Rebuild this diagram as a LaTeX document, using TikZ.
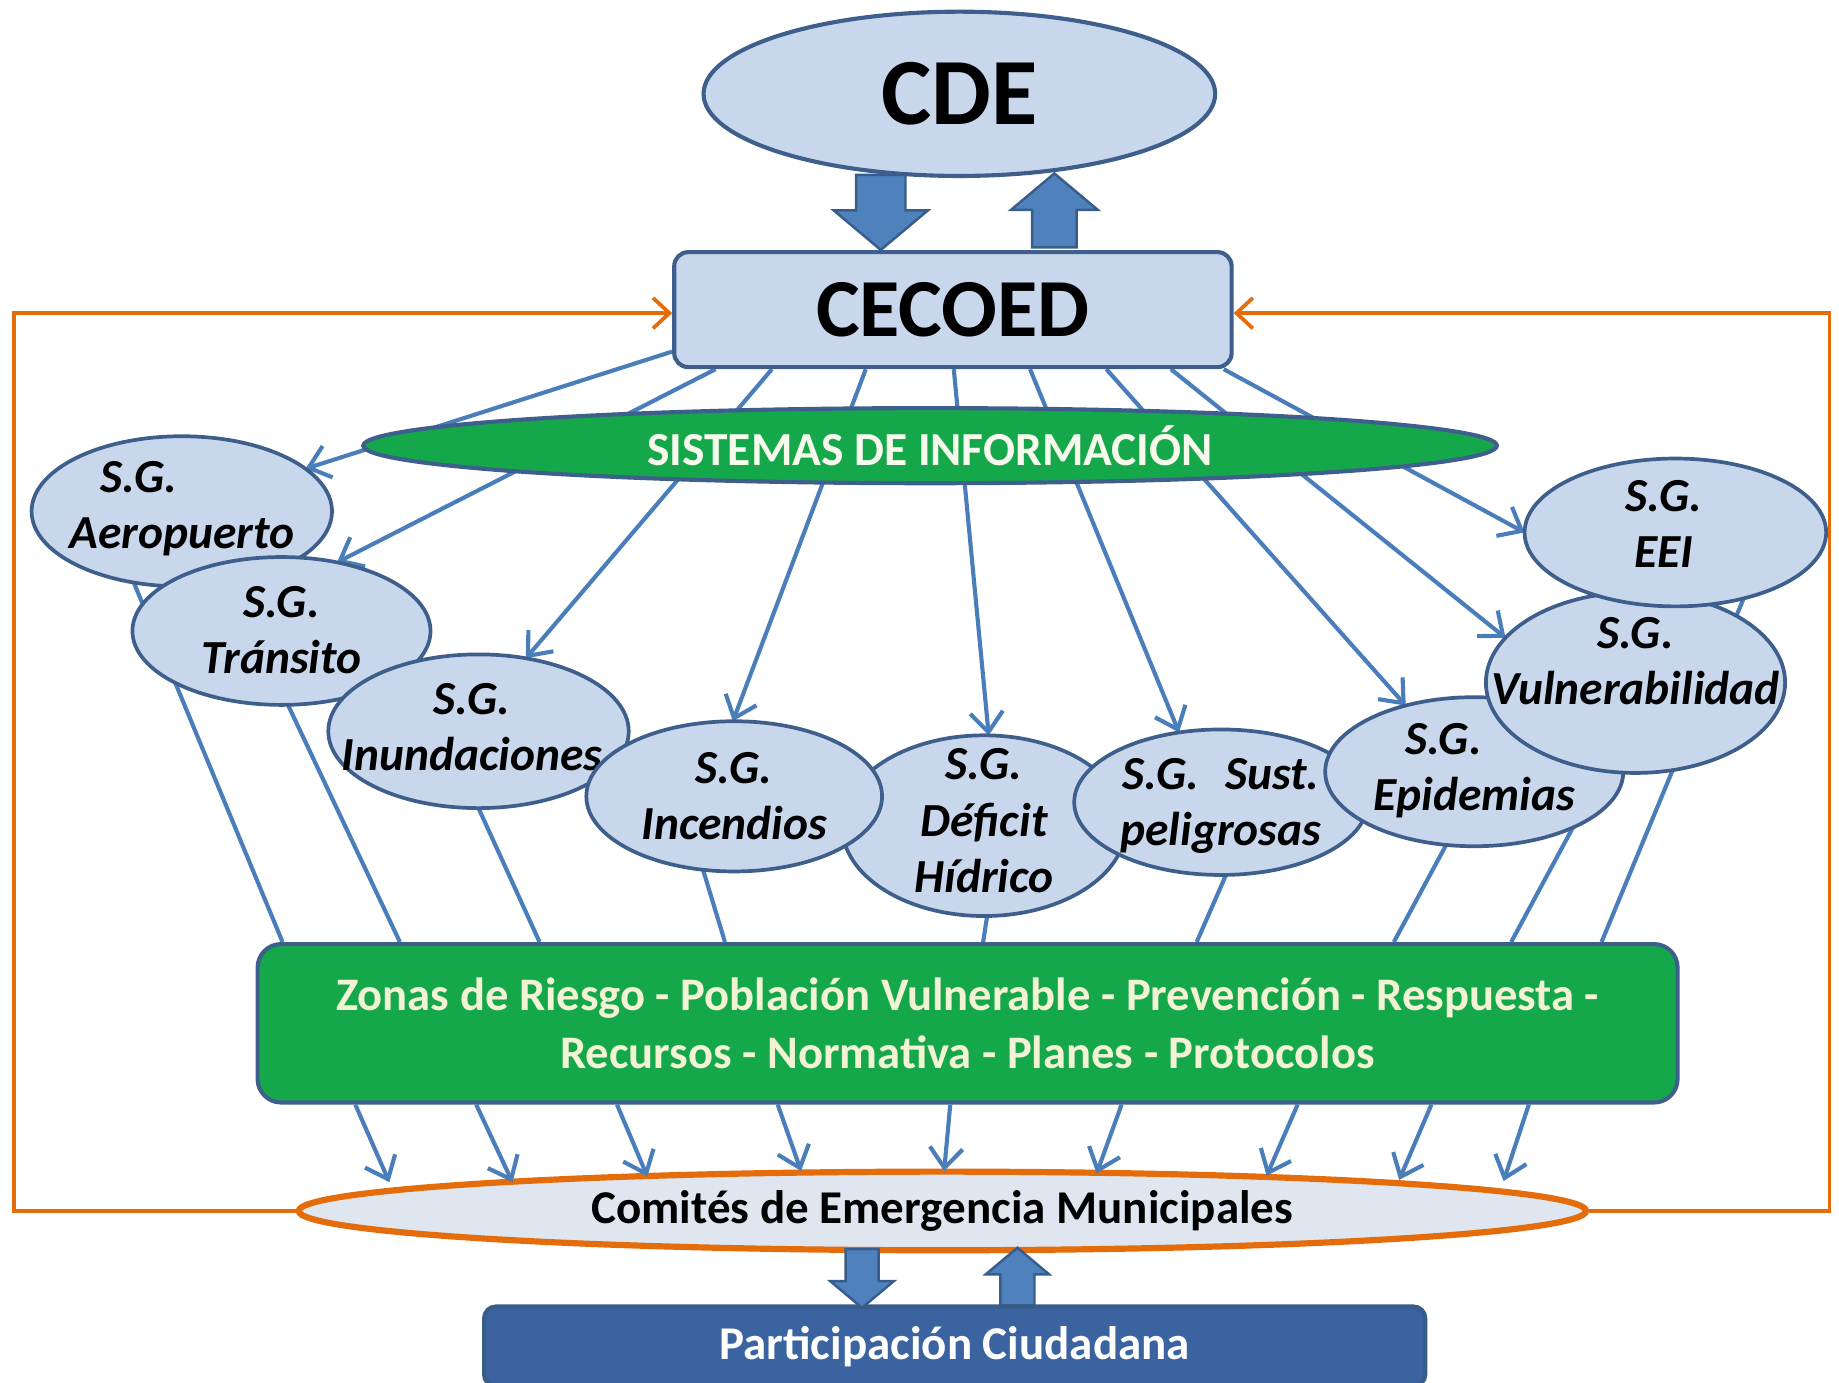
\documentclass[tikz,border=0pt]{standalone}
\usepackage{fontspec}
\setmainfont{Carlito}
\usetikzlibrary{shapes.geometric,shapes.arrows,arrows.meta,backgrounds}

\definecolor{lightb}{HTML}{C8D7EC}
\definecolor{bordc}{HTML}{3E5F8C}
\definecolor{lineb}{HTML}{4A7EBB}
\definecolor{arrowf}{HTML}{4F81BD}
\definecolor{arrowb}{HTML}{385D8A}
\definecolor{grn}{HTML}{14A84A}
\definecolor{cream}{HTML}{F2F2D5}
\definecolor{whitish}{HTML}{F6F9EC}
\definecolor{orng}{HTML}{E46C0A}
\definecolor{comfill}{HTML}{DFE6F0}
\definecolor{partfill}{HTML}{3A63A0}

% text of a S.G. ellipse, taking no room of its own: [raise]{shift}{lines}
\newcommand{\sgtext}[3][0pt]{\makebox[0pt][l]{\hspace*{#2}\makebox[0pt]{\smash{\raisebox{\dimexpr#1-3.9pt\relax}{\begin{tabular}{@{}c@{}}#3\end{tabular}}}}}}

\tikzset{
  sg/.style 2 args={ellipse, draw=bordc, fill=lightb, line width=0.9pt, inner sep=0pt, outer sep=0pt,
    minimum width=#1cm, minimum height=#2cm, font=\fontsize{11.5}{13.6}\selectfont\bfseries\itshape},
  link/.style={draw=lineb, line width=1pt},
  linkarrow/.style={link, -{Straight Barb[length=1.7mm,width=2.8mm]}},
  frame/.style={draw=orng, line width=0.9pt, -{Straight Barb[length=1.4mm,width=2.6mm]}},
  bigarrow/.style={single arrow, draw=arrowb, fill=arrowf, line width=0.6pt, inner xsep=0pt, single arrow tip angle=100},
}

\begin{document}
\begin{tikzpicture}[x=0.01cm, y=-0.01cm]
  \useasboundingbox (0,0) rectangle (1568,1179);

  \node[ellipse, draw=bordc, fill=lightb, line width=1pt, inner sep=0pt, minimum width=4.36cm, minimum height=1.40cm,
        font=\fontsize{23}{26}\selectfont\bfseries] (cde) at (818,80) {CDE};
  \node[draw=bordc, fill=lightb, line width=1pt, rounded corners=0.12cm, inner sep=0pt, minimum width=4.75cm, minimum height=0.98cm,
        font=\fontsize{20}{24}\selectfont\bfseries] (cecoed) at (812.5,264) {CECOED};
  \node[ellipse, draw=bordc, fill=grn, line width=1pt, inner sep=0pt, minimum width=9.66cm, minimum height=0.64cm,
        text=whitish, font=\fontsize{11.5}{13}\selectfont\bfseries] (sist) at (793,380) {SISTEMAS DE INFORMACIÓN};

  \node[sg={2.56}{1.28}] (aero) at (155,436) {\sgtext[1.4pt]{0pt}{S.G.\hspace*{1.8em}\\Aeropuerto}};
  \node[sg={2.54}{1.26}] (transito) at (240,538) {\sgtext{0pt}{S.G.\\Tránsito}};
  \node[sg={2.56}{1.31}] (inund) at (408,623.5) {\sgtext[0.85pt]{-1.6pt}{S.G.\\Inundaciones}};
  \node[sg={2.42}{1.54}] (deficit) at (839,704) {\sgtext[1.1pt]{0pt}{S.G.\\Déficit\\Hídrico}};
  \node[sg={2.52}{1.28}] (incend) at (626,679) {\sgtext{0pt}{S.G.\\Incendios}};
  \node[sg={2.50}{1.24}] (sust) at (1041,684) {\sgtext{0pt}{S.G.\hspace{0.55em}Sust.\\peligrosas}};
  \node[sg={2.54}{1.27}] (epid) at (1257,658) {\sgtext[1.1pt]{0pt}{S.G.\hspace*{1.3em}\\Epidemias}};
  \node[sg={2.55}{1.54}] (vuln) at (1394.5,582) {\sgtext[5.1pt]{0pt}{S.G.\\Vulnerabilidad}};
  \node[sg={2.57}{1.26}] (eei) at (1428.5,454) {\sgtext[2pt]{-2.8pt}{S.G.\\EEI}};

  \node[draw=bordc, fill=grn, line width=1pt, rounded corners=0.2cm, inner sep=0pt, minimum width=12.10cm, minimum height=1.35cm,
        align=center, text=cream, font=\fontsize{11.3}{13.9}\selectfont\bfseries] (box) at (825,872.5)
        {Zonas de Riesgo - Población Vulnerable - Prevención - Respuesta -\\Recursos - Normativa - Planes - Protocolos};
  \node[ellipse, draw=orng, fill=comfill, line width=1.5pt, inner sep=0pt, minimum width=10.97cm, minimum height=0.67cm,
        font=\fontsize{11.4}{13}\selectfont\bfseries] (com) at (803.5,1032.5) {Comités de Emergencia Municipales};
  \node[draw=arrowb, fill=partfill, line width=1pt, rounded corners=0.1cm, inner sep=0pt, minimum width=8.02cm, minimum height=0.68cm,
        text=white, font=\fontsize{11.4}{13}\selectfont\bfseries] (part) at (814,1148) {Participación Ciudadana};

  \node[bigarrow, rotate=-90, anchor=tail, minimum height=0.64cm, inner ysep=0.2cm, single arrow head extend=0.19cm] (cdedown) at (751,148) {};
  \node[bigarrow, rotate=90, anchor=tail, minimum height=0.63cm, inner ysep=0.18cm, single arrow head extend=0.18cm] (cdeup) at (899,212) {};
  \node[bigarrow, rotate=-90, anchor=tail, minimum height=0.50cm, inner ysep=0.13cm, single arrow head extend=0.13cm] (comdown) at (735,1064) {};
  \node[bigarrow, rotate=90, anchor=tail, minimum height=0.49cm, inner ysep=0.135cm, single arrow head extend=0.125cm] (comup) at (867.5,1114) {};

  \coordinate (fnw) at (12,267);
  \coordinate (fne) at (1560,267);

  \begin{scope}[on background layer]
    \draw[frame] (com.west) -| (fnw) -- (fnw -| cecoed.west);
    \draw[frame] (com.east) -| (fne) -- (fne -| cecoed.east);

    \draw[linkarrow] ([yshift=0.15cm]cecoed.south west) -- (aero.19);
    \draw[linkarrow] ([xshift=0.37cm]cecoed.south west) -- (transito.51);
    \draw[linkarrow] ([xshift=0.85cm]cecoed.south west) -- (inund.57);
    \draw[linkarrow] ([xshift=1.65cm]cecoed.south west) -- (incend.91);
    \draw[linkarrow] ([xshift=2.40cm]cecoed.south west) -- (deficit.87);
    \draw[linkarrow] ([xshift=3.05cm]cecoed.south west) -- (sust.121);
    \draw[linkarrow] ([xshift=3.70cm]cecoed.south west) -- (epid.136);
    \draw[linkarrow] ([xshift=4.25cm]cecoed.south west) -- (vuln.161);
    \draw[linkarrow] ([xshift=4.70cm]cecoed.south west) -- (eei.180);

    \draw[link] (aero.236) -- ([xshift=0.23cm]box.north west);
    \draw[link] (transito.275) -- ([xshift=1.23cm]box.north west);
    \draw[link] (inund.270) -- ([xshift=2.42cm]box.north west);
    \draw[link] (incend.247) -- ([xshift=4.00cm]box.north west);
    \draw[link] (deficit.272) -- ([xshift=6.20cm]box.north west);
    \draw[link] (sust.274) -- ([xshift=8.02cm]box.north west);
    \draw[link] (epid.249) -- ([xshift=9.70cm]box.north west);
    \draw[link] (vuln.250) -- ([xshift=10.70cm]box.north west);
    \draw[link] (eei.316) -- ([xshift=11.47cm]box.north west);
  \end{scope}

  \draw[linkarrow] ([xshift=0.85cm]box.south west) -- ([shift={(-471.5,-24.5)}]com.center);
  \draw[linkarrow] ([xshift=1.88cm]box.south west) -- ([shift={(-366.5,-24.5)}]com.center);
  \draw[linkarrow] ([xshift=3.08cm]box.south west) -- ([shift={(-251.5,-29.3)}]com.center);
  \draw[linkarrow] ([xshift=4.45cm]box.south west) -- ([shift={(-120.5,-34)}]com.center);
  \draw[linkarrow] ([xshift=5.92cm]box.south west) -- ([shift={(1.5,-34)}]com.center);
  \draw[linkarrow] ([xshift=7.38cm]box.south west) -- ([shift={(131.5,-32)}]com.center);
  \draw[linkarrow] ([xshift=8.88cm]box.south west) -- ([shift={(276.5,-30)}]com.center);
  \draw[linkarrow] ([xshift=10.02cm]box.south west) -- ([shift={(389.5,-26.5)}]com.center);
  \draw[linkarrow] ([xshift=10.85cm]box.south west) -- ([shift={(478.5,-25.5)}]com.center);
\end{tikzpicture}
\end{document}
